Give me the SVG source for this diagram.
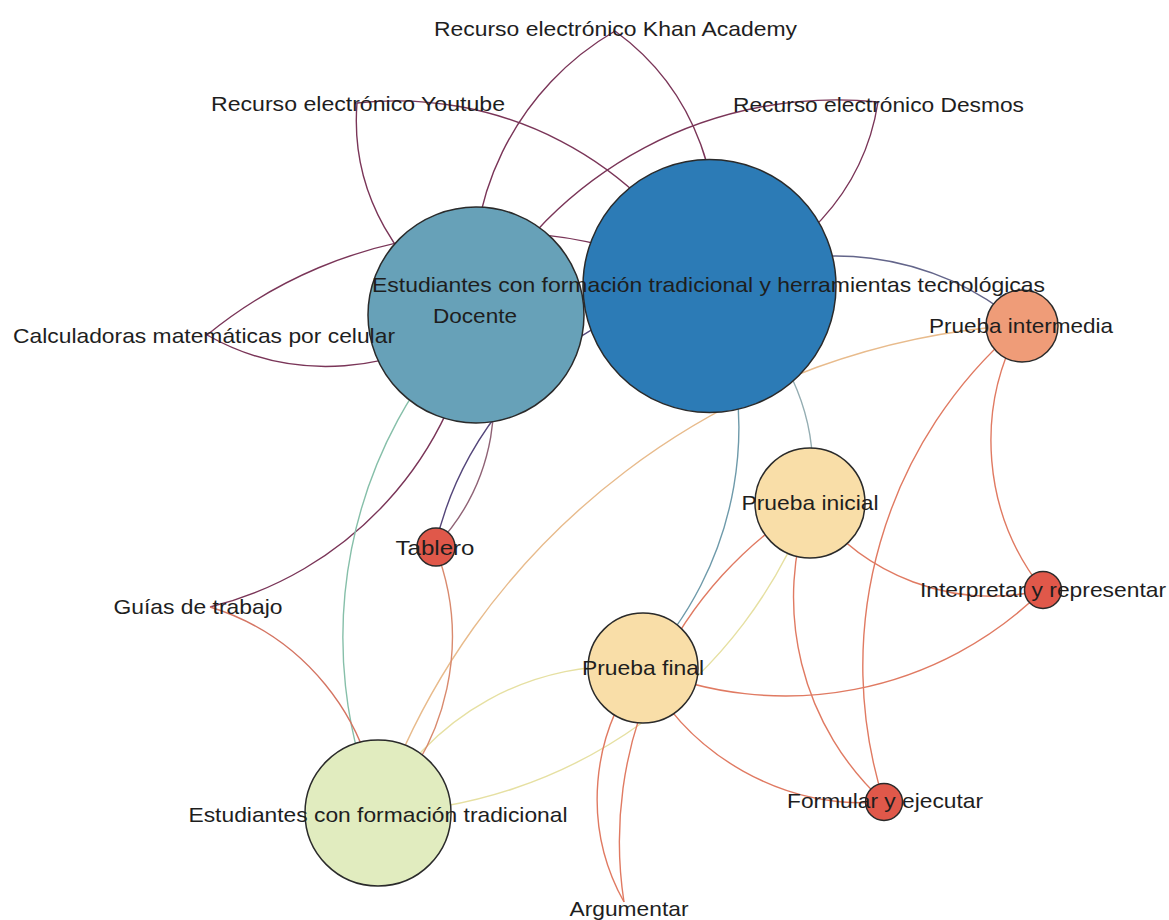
<svg xmlns="http://www.w3.org/2000/svg" width="1169" height="920" viewBox="0 0 1169 920">
<style>
.e{fill:none;stroke-width:1.4}
.m{stroke:#7a3558}
.red{stroke:#e07a62}
.yel{stroke:#e6e0a2}
.n{stroke:#2a2a2a;stroke-width:1.5}
.l{font-family:"Liberation Sans",Arial,sans-serif;font-size:21px;fill:#1e1e1e;text-anchor:middle}
</style>
<rect width="1169" height="920" fill="#ffffff"/>
<g id="connectors">
<path class="e m" d="M615,31 A284.6,284.6 0 0 0 476,315"/>
<path class="e m" d="M615,31 A244.6,244.6 0 0 1 709,286"/>
<path class="e m" d="M357,103 A218.8,218.8 0 0 0 476,315"/>
<path class="e m" d="M357,103 A357,357 0 0 1 709,286"/>
<path class="e m" d="M878,102 A409.5,409.5 0 0 0 476,315"/>
<path class="e m" d="M878,102 A224.8,224.8 0 0 1 709,286"/>
<path class="e m" d="M207,335 A242.8,242.8 0 0 0 476,315"/>
<path class="e m" d="M207,335 A454,454 0 0 1 709,286"/>
<path class="e m" d="M476,315 A355.5,355.5 0 0 1 210,607"/>
<path class="e" stroke="#8f6275" d="M476,315 A212,212 0 0 1 435,547"/>
<path class="e" stroke="#54467a" d="M709,286 A340.6,340.6 0 0 0 435,547"/>
<path class="e" stroke="#86bfa9" d="M476,315 A456.8,456.8 0 0 0 378,813"/>
<path class="e" stroke="#6e9aaa" d="M709,286 A348,348 0 0 1 643,667"/>
<path class="e" stroke="#94adb2" d="M709,286 A215.4,215.4 0 0 1 810,503"/>
<path class="e" stroke="#63658a" d="M709,286 A283,283 0 0 1 1021,325"/>
<path class="e" stroke="#e8bb8c" d="M1021,325 A726.5,726.5 0 0 0 378,813"/>
<path class="e yel" d="M810,503 A478.5,478.5 0 0 1 378,813"/>
<path class="e yel" d="M643,667 A272.3,272.3 0 0 0 378,813"/>
<path class="e" stroke="#d98a6e" d="M435,547 A244.8,244.8 0 0 1 378,813"/>
<path class="e" stroke="#d47462" d="M210,607 A239.2,239.2 0 0 1 378,813"/>
<path class="e red" d="M1021,325 A239.2,239.2 0 0 0 1043,590"/>
<path class="e red" d="M1021,325 A446.7,446.7 0 0 0 884,802"/>
<path class="e red" d="M810,503 A223,223 0 0 0 1043,590"/>
<path class="e red" d="M1043,590 A365.7,365.7 0 0 1 643,667"/>
<path class="e red" d="M810,503 A277.2,277.2 0 0 0 884,802"/>
<path class="e red" d="M643,667 A248.6,248.6 0 0 0 884,802"/>
<path class="e red" d="M643,667 A212.2,212.2 0 0 0 624,902"/>
<path class="e red" d="M810,503 A396.2,396.2 0 0 0 624,902"/>
</g>
<g id="node-estudiantes-tradicional">
<circle class="n" cx="378" cy="813" r="73" fill="#e1ecbf"/>
<text class="l" x="378" y="821.5" textLength="379" lengthAdjust="spacingAndGlyphs">Estudiantes con formación tradicional</text>
</g>
<g id="node-prueba-final">
<circle class="n" cx="643" cy="668" r="55" fill="#f9dea8"/>
<text class="l" x="643" y="674.5" textLength="122" lengthAdjust="spacingAndGlyphs">Prueba final</text>
</g>
<g id="node-formular">
<circle class="n" cx="884" cy="802" r="18.5" fill="#e0584a"/>
<text class="l" x="885" y="807.5" textLength="196" lengthAdjust="spacingAndGlyphs">Formular y ejecutar</text>
</g>
<g id="node-argumentar">
<text class="l" x="629" y="915.5" textLength="119" lengthAdjust="spacingAndGlyphs">Argumentar</text>
</g>
<g id="node-interpretar">
<circle class="n" cx="1043" cy="590" r="18.5" fill="#e0584a"/>
<text class="l" x="1043" y="596.5" textLength="246" lengthAdjust="spacingAndGlyphs">Interpretar y representar</text>
</g>
<g id="node-prueba-inicial">
<circle class="n" cx="810" cy="503" r="55" fill="#f9dea8"/>
<text class="l" x="810" y="509.5" textLength="137" lengthAdjust="spacingAndGlyphs">Prueba inicial</text>
</g>
<g id="node-tablero">
<circle class="n" cx="436" cy="547" r="19" fill="#e0584a"/>
<text class="l" x="435" y="554.5" textLength="79" lengthAdjust="spacingAndGlyphs">Tablero</text>
</g>
<g id="node-guias">
<text class="l" x="198" y="613.5" textLength="169" lengthAdjust="spacingAndGlyphs">Guías de trabajo</text>
</g>
<g id="node-docente">
<circle class="n" cx="476" cy="315" r="108" fill="#67a1b8"/>
<text class="l" x="475" y="322.5" textLength="84" lengthAdjust="spacingAndGlyphs">Docente</text>
</g>
<g id="node-calculadoras">
<text class="l" x="204" y="342.5" textLength="382" lengthAdjust="spacingAndGlyphs">Calculadoras matemáticas por celular</text>
</g>
<g id="node-prueba-intermedia">
<circle class="n" cx="1022" cy="326" r="36" fill="#ef9c78"/>
<text class="l" x="1021" y="332.5" textLength="184" lengthAdjust="spacingAndGlyphs">Prueba intermedia</text>
</g>
<g id="node-khan">
<text class="l" x="615.5" y="35.5" textLength="363" lengthAdjust="spacingAndGlyphs">Recurso electrónico Khan Academy</text>
</g>
<g id="node-youtube">
<text class="l" x="358" y="110.5" textLength="294" lengthAdjust="spacingAndGlyphs">Recurso electrónico Youtube</text>
</g>
<g id="node-desmos">
<text class="l" x="878.5" y="111.5" textLength="291" lengthAdjust="spacingAndGlyphs">Recurso electrónico Desmos</text>
</g>
<g id="node-estudiantes-herramientas">
<circle class="n" cx="709.5" cy="286" r="126.5" fill="#2c7bb6"/>
<text class="l" x="708.5" y="291.5" textLength="673" lengthAdjust="spacingAndGlyphs">Estudiantes con formación tradicional y herramientas tecnológicas</text>
</g>
</svg>
